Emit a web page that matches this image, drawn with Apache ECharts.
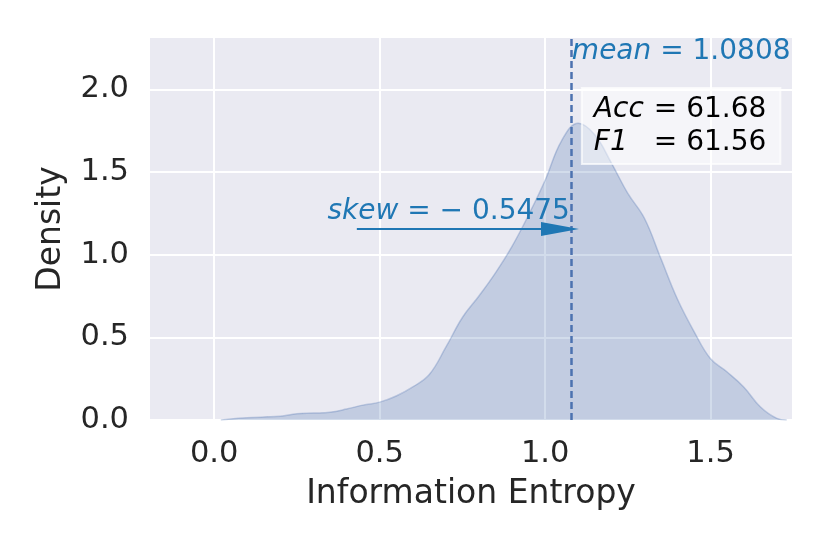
<!DOCTYPE html>
<html>
<head>
<meta charset="utf-8">
<script src="https://cdn.jsdelivr.net/npm/echarts@6/dist/echarts.min.js"></script>
<style>
  html, body { margin: 0; padding: 0; background: #ffffff; }
  #chart { width: 830px; height: 554px; }
</style>
</head>
<body>
<div id="chart"></div>
<script>
// KDE of information entropy
const entropyX = [0.02, 0.05, 0.10, 0.15, 0.20, 0.25, 0.30, 0.35, 0.40, 0.45, 0.50, 0.55, 0.60, 0.65,
  0.70, 0.75, 0.80, 0.85, 0.90, 0.95, 1.00, 1.05, 1.10, 1.15, 1.20, 1.25, 1.30, 1.35, 1.40, 1.45,
  1.50, 1.55, 1.60, 1.65, 1.70, 1.73];
const densityY = [0.0, 0.006, 0.013, 0.018, 0.022, 0.038, 0.042, 0.047, 0.066, 0.09, 0.108, 0.145, 0.20, 0.275,
  0.44, 0.62, 0.75, 0.89, 1.05, 1.24, 1.45, 1.69, 1.795, 1.725, 1.555, 1.37, 1.22, 0.975, 0.73, 0.535,
  0.37, 0.29, 0.20, 0.08, 0.01, 0.0];

const xTicks = [0.0, 0.5, 1.0, 1.5];
const yTicks = [0.0, 0.5, 1.0, 1.5, 2.0];

const meanValue = 1.0808;
const skewValue = -0.5475;
const accValue = 61.68;
const f1Value = 61.56;

// arrow / annotation anchors (data coords)
const arrowFrom = [0.431, 1.155];
const arrowTo = [1.045, 1.155];
const skewTextAt = [0.342, 1.262];
const meanTextAt = [meanValue, 2.225];
const scoreBoxAt = [1.111, 2.007];

const FONT = 'DejaVu Sans';
const annoColor = '#1f77b4';

const chart = echarts.init(document.getElementById('chart'), null, { renderer: 'canvas' });

const option = {
  animation: false,
  backgroundColor: '#ffffff',
  grid: {
    left: 150, right: 38, top: 38, bottom: 134,
    show: true, backgroundColor: '#eaeaf2', borderWidth: 0
  },
  xAxis: {
    type: 'value',
    min: -0.194,
    max: 1.746,
    name: 'Information Entropy',
    nameLocation: 'middle',
    nameGap: 58,
    nameTextStyle: { fontFamily: FONT, fontSize: 33, color: '#262626' },
    axisLine: { show: false },
    axisTick: { show: false, customValues: xTicks },
    axisLabel: {
      customValues: xTicks,
      formatter: v => v.toFixed(1),
      fontFamily: FONT, fontSize: 30.5, color: '#262626', margin: 19
    },
    splitLine: { show: true, lineStyle: { color: '#ffffff', width: 2 } }
  },
  yAxis: {
    type: 'value',
    min: 0,
    max: 2.31,
    name: 'Density',
    nameLocation: 'middle',
    nameGap: 82,
    nameTextStyle: { fontFamily: FONT, fontSize: 33, color: '#262626' },
    axisLine: { show: false },
    axisTick: { show: false, customValues: yTicks },
    axisLabel: {
      customValues: yTicks,
      formatter: v => v.toFixed(1),
      fontFamily: FONT, fontSize: 30.5, color: '#262626', margin: 21
    },
    splitLine: { show: true, lineStyle: { color: '#ffffff', width: 2 } }
  },
  series: [
    {
      type: 'line',
      data: entropyX.map((x, i) => [x, densityY[i]]),
      smooth: 0.4,
      showSymbol: false,
      lineStyle: { color: 'rgba(76,114,176,0.3)', width: 1.5 },
      areaStyle: { color: 'rgba(76,114,176,0.25)', opacity: 1 },
      z: 2,
      markLine: {
        silent: true,
        symbol: ['none', 'none'],
        label: { show: false },
        lineStyle: { color: '#4c72b0', width: 2.5, type: [7, 4] },
        data: [{ xAxis: meanValue }]
      }
    },
    {
      // skew arrow + annotation texts
      type: 'line',
      data: [],
      z: 5,
      markLine: {
        silent: true,
        symbol: ['none', 'triangle'],
        symbolSize: [14, 38],
        label: { show: false },
        lineStyle: { color: annoColor, width: 2, type: 'solid' },
        data: [[{ coord: arrowFrom }, { coord: arrowTo }]]
      },
      markPoint: {
        silent: true,
        symbol: 'circle',
        symbolSize: 0,
        data: [
          {
            coord: meanTextAt,
            label: {
              show: true, position: 'right', distance: 0,
              formatter: '{i|mean}{n| = ' + meanValue.toFixed(4) + '}',
              rich: {
                i: { fontFamily: FONT, fontSize: 28, fontStyle: 'italic', color: annoColor },
                n: { fontFamily: FONT, fontSize: 28, color: annoColor }
              }
            }
          },
          {
            coord: skewTextAt,
            label: {
              show: true, position: 'right', distance: 0,
              formatter: '{i|skew}{n| = \u2212 ' + Math.abs(skewValue).toFixed(4) + '}',
              rich: {
                i: { fontFamily: FONT, fontSize: 28, fontStyle: 'italic', color: annoColor },
                n: { fontFamily: FONT, fontSize: 28, color: annoColor }
              }
            }
          },
          {
            coord: scoreBoxAt,
            label: {
              show: true, position: [0, 0], align: 'left', verticalAlign: 'top',
              backgroundColor: 'rgba(255,255,255,0.5)',
              borderColor: 'rgba(255,255,255,0.7)', borderWidth: 1,
              padding: [5, 14, 5, 12],
              lineHeight: 33,
              formatter: '{i|Acc}{n|= ' + accValue.toFixed(2) + '}\n{i|F1}{n|= ' + f1Value.toFixed(2) + '}',
              rich: {
                i: { fontFamily: FONT, fontSize: 28, fontStyle: 'italic', color: '#000', width: 60, lineHeight: 33 },
                n: { fontFamily: FONT, fontSize: 28, color: '#000', lineHeight: 33 }
              }
            }
          }
        ]
      }
    }
  ]
};

chart.setOption(option);
</script>
</body>
</html>
